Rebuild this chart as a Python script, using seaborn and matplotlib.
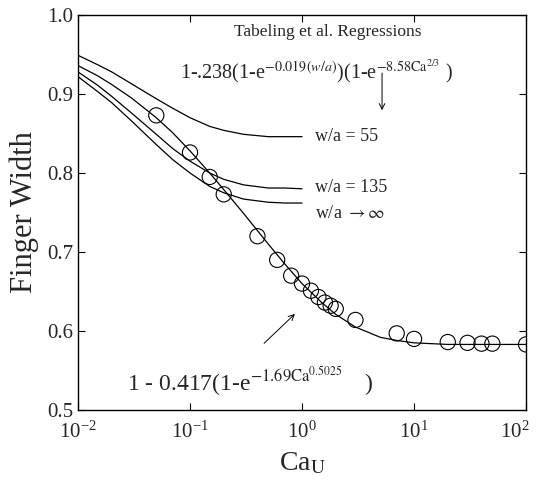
import matplotlib
matplotlib.use("Agg")
import matplotlib.pyplot as plt
import matplotlib.transforms as mtransforms
import numpy as np
import pandas as pd
import seaborn as sns
from matplotlib.ticker import LogLocator, LogFormatterMathtext, NullLocator, MultipleLocator

# Measured finger widths (circles)
ca_data = [0.05, 0.1, 0.15, 0.2, 0.4, 0.6, 0.8, 1.0, 1.2, 1.4, 1.6, 1.8, 2.0,
           3.0, 7.0, 10.0, 20.0, 30.0, 40.0, 50.0, 100.0]
width_data = [0.873, 0.826, 0.795, 0.773, 0.720, 0.690, 0.670, 0.660, 0.651,
              0.643, 0.636, 0.632, 0.628, 0.614, 0.597, 0.590, 0.586, 0.585,
              0.584, 0.584, 0.583]

# Fit curve 1 - 0.417(...)
ca_fit = [0.01, 0.015, 0.02, 0.03, 0.05, 0.07, 0.1, 0.15, 0.2, 0.3, 0.5, 0.7,
          1.0, 1.5, 2.0, 3.0, 5.0, 7.0, 10.0, 20.0, 50.0, 100.0]
width_fit = [0.936, 0.923, 0.912, 0.895, 0.870, 0.851, 0.828, 0.800, 0.779,
             0.749, 0.710, 0.685, 0.660, 0.636, 0.621, 0.605, 0.592, 0.588,
             0.585, 0.583, 0.583, 0.583]

# Tabeling et al. regression curves
ca_tab = [0.01, 0.015, 0.02, 0.03, 0.05, 0.07, 0.1, 0.15, 0.2, 0.3, 0.5, 0.7, 1.0]
width_55 = [0.949, 0.937, 0.928, 0.913, 0.894, 0.882, 0.870, 0.859, 0.854,
            0.849, 0.846, 0.846, 0.846]
width_135 = [0.928, 0.911, 0.897, 0.876, 0.849, 0.831, 0.815, 0.800, 0.792,
             0.785, 0.781, 0.781, 0.780]
width_inf = [0.922, 0.903, 0.889, 0.866, 0.836, 0.817, 0.800, 0.783, 0.775,
             0.767, 0.763, 0.762, 0.762]

sns.set_style("ticks")
plt.rcParams["font.family"] = ["Liberation Serif", "DejaVu Serif"]
plt.rcParams["mathtext.fontset"] = "stix"
plt.rcParams["axes.unicode_minus"] = False

fig = plt.figure(figsize=(5.39, 4.86), dpi=100)
ax = fig.add_axes([0.1447, 0.1564, 0.8313, 0.8127])

lw = 0.9
for w in [width_55, width_135, width_inf]:
    sns.lineplot(x=ca_tab, y=w, color="black", lw=lw, ax=ax,
                 estimator=None, sort=False)
sns.lineplot(x=ca_fit, y=width_fit, color="black", lw=lw, ax=ax,
             estimator=None, sort=False)
sns.scatterplot(x=ca_data, y=width_data, s=120, facecolor="none",
                edgecolor="black", linewidth=0.8, ax=ax, zorder=3)

ax.set_xscale("log")
ax.set_xlim(1e-2, 1e2)
ax.set_ylim(0.5, 1.0)
ax.xaxis.set_major_locator(LogLocator(base=10, numticks=10))
ax.xaxis.set_major_formatter(LogFormatterMathtext())
ax.xaxis.set_minor_locator(NullLocator())
ax.yaxis.set_major_locator(MultipleLocator(0.1))
ax.tick_params(direction="in", top=True, right=True, labelsize=15,
               width=0.8, length=5, color="black")
ax.tick_params(axis="x", pad=8)
for sp in ax.spines.values():
    sp.set_linewidth(1.0)
    sp.set_color("black")

ax.set_xlabel(r"Ca$_\mathrm{U}$", fontsize=20, labelpad=6)
ax.set_ylabel("Finger Width", fontsize=22, labelpad=6)

# nudge the 10^2 tick label so it stays inside the figure
fig.canvas.draw()
for t in ax.xaxis.get_major_ticks():
    if np.isclose(t.get_loc(), 100.0):
        lab = t.label1
        lab.set_transform(lab.get_transform() +
                          mtransforms.ScaledTranslation(-8 / 72, 0, fig.dpi_scale_trans))

# annotations
ax.text(1.71, 0.978, "Tabeling et al. Regressions", fontsize=12.5,
        ha="center", va="center")
ax.text(1.36, 0.921,
        r"1-.238(1-e$^{-0.019(w/a)}$)(1-e$^{-8.58\mathrm{Ca}^{2/3}}$ )",
        fontsize=14.5, ha="center", va="baseline")
ax.annotate("", xy=(5.18, 0.876), xytext=(5.18, 0.930),
            arrowprops=dict(arrowstyle="->", color="black", lw=0.7))
ax.text(1.3, 0.846, "w/a = 55", fontsize=13, ha="left", va="center")
ax.text(1.3, 0.782, "w/a = 135", fontsize=13, ha="left", va="center")
ax.text(1.3, 0.749, r"w/a $\rightarrow\infty$", fontsize=13, ha="left", va="center")

ax.text(0.0274, 0.536,
        r"1 - 0.417(1-e$^{-1.69\mathrm{Ca}^{0.5025}}$$\quad\;$)",
        fontsize=17, ha="left", va="center")
ax.annotate("", xy=(0.90, 0.624), xytext=(0.44, 0.582),
            arrowprops=dict(arrowstyle="->", color="black", lw=0.7))

fig.savefig("out.png", dpi=100)
